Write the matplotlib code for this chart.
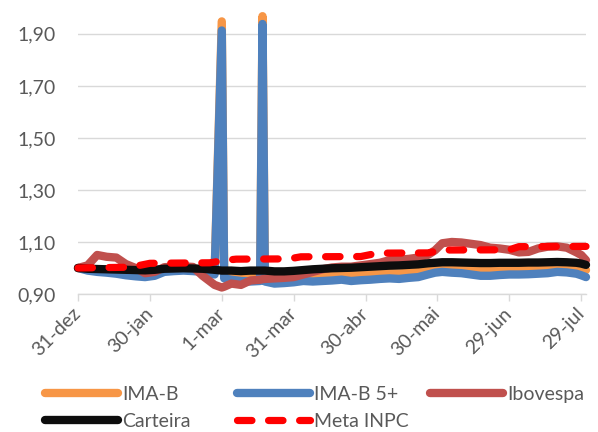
import matplotlib
matplotlib.use("Agg")
import matplotlib.pyplot as plt

# ---- data (days since 31-dez) ----
days = [0, 4, 8, 12, 16, 20, 24, 28, 32, 36, 40, 44, 48, 52, 57, 60, 61, 64, 68, 72,
        76, 77, 78, 82, 86, 90, 94, 98, 102, 106, 110, 114, 118, 122, 126, 130, 134,
        138, 142, 146, 149, 152, 156, 160, 164, 168, 172, 176, 180, 184, 188, 192, 196,
        200, 204, 208, 210, 212]

ima_b = [1.000, 0.995, 0.992, 0.990, 0.988, 0.985, 0.982, 0.980, 0.983, 0.990, 0.992,
         0.993, 0.992, 0.990, 0.982, 1.948, 0.975, 0.972, 0.968, 0.966, 0.968, 1.968,
         0.966, 0.962, 0.963, 0.965, 0.968, 0.967, 0.970, 0.972, 0.974, 0.972, 0.974,
         0.976, 0.978, 0.980, 0.979, 0.982, 0.985, 0.992, 0.997, 1.000, 0.999, 0.998,
         0.995, 0.993, 0.993, 0.995, 0.997, 0.997, 0.998, 0.999, 1.000, 1.003, 1.002,
         0.999, 0.996, 0.992]

ima_b5 = [1.000, 0.990, 0.985, 0.982, 0.978, 0.972, 0.968, 0.965, 0.970, 0.985, 0.988,
          0.990, 0.988, 0.985, 0.975, 1.913, 0.960, 0.955, 0.950, 0.948, 0.950, 1.938,
          0.948, 0.940, 0.942, 0.945, 0.950, 0.948, 0.950, 0.952, 0.955, 0.950, 0.953,
          0.955, 0.958, 0.960, 0.958, 0.962, 0.965, 0.975, 0.982, 0.985, 0.982, 0.980,
          0.975, 0.970, 0.970, 0.973, 0.975, 0.975, 0.976, 0.978, 0.980, 0.985, 0.983,
          0.978, 0.972, 0.965]

ibovespa = [1.000, 1.010, 1.050, 1.043, 1.040, 1.015, 1.000, 0.980, 0.985, 1.003, 1.005,
            1.006, 1.004, 0.970, 0.935, 0.925, 0.928, 0.940, 0.935, 0.952, 0.955, 0.957,
            0.958, 0.960, 0.962, 0.965, 0.975, 0.985, 0.995, 1.002, 1.005, 1.005, 1.010,
            1.015, 1.020, 1.030, 1.032, 1.035, 1.040, 1.050, 1.068, 1.095, 1.100, 1.098,
            1.093, 1.088, 1.078, 1.075, 1.070, 1.060, 1.062, 1.075, 1.082, 1.083, 1.078,
            1.060, 1.050, 1.030]

carteira = [1.000, 0.997, 0.996, 0.995, 0.994, 0.993, 0.992, 0.991, 0.993, 0.997, 0.998,
            0.999, 0.998, 0.997, 0.993, 0.990, 0.990, 0.990, 0.988, 0.990, 0.990, 0.990,
            0.990, 0.987, 0.987, 0.989, 0.992, 0.995, 0.997, 0.999, 1.000, 1.001, 1.003,
            1.005, 1.007, 1.009, 1.010, 1.012, 1.014, 1.018, 1.020, 1.022, 1.022, 1.021,
            1.020, 1.019, 1.019, 1.020, 1.020, 1.020, 1.021, 1.021, 1.022, 1.023, 1.022,
            1.020, 1.017, 1.012]

inpc_days = [0, 22, 30, 55, 62, 66, 88, 93, 118, 125, 146, 152, 180, 184, 212]
meta_inpc = [1.000, 1.003, 1.018, 1.020, 1.030, 1.034, 1.035, 1.043, 1.044, 1.057,
             1.058, 1.069, 1.070, 1.082, 1.083]

tick_days = [0, 30, 60, 90, 120, 150, 180, 210]
tick_labels = ["31-dez", "30-jan", "1-mar", "31-mar", "30-abr", "30-mai", "29-jun", "29-jul"]
y_ticks = [0.90, 1.10, 1.30, 1.50, 1.70, 1.90]

# ---- style ----
FONT = "Lato"
FS = 14
TXT = "#595959"
GRID = "#D9D9D9"

fig = plt.figure(figsize=(5.98, 4.32), dpi=100)
ax = fig.add_axes([78/598, (432-294)/432, (586-78)/598, (294-5)/432])

lw = 6.0
common = dict(lw=lw, solid_capstyle="round", solid_joinstyle="round", clip_on=False)
l1, = ax.plot(days, ima_b, color="#F79646", label="IMA-B", zorder=3, **common)
l2, = ax.plot(days, ima_b5, color="#4F81BD", label="IMA-B 5+", zorder=4, **common)
l3, = ax.plot(days, ibovespa, color="#C0504D", label="Ibovespa", zorder=5, **common)
l4, = ax.plot(days, carteira, color="#0D0D0D", label="Carteira", zorder=6, **common)
l5, = ax.plot(inpc_days, meta_inpc, color="#FF0000", lw=5.2, dashes=(2.0, 2.3),
              dash_capstyle="round", dash_joinstyle="round", clip_on=False,
              label="Meta INPC", zorder=7)

ax.set_xlim(0, 212)
ax.set_ylim(0.9, 2.011)
ax.set_yticks(y_ticks)
ax.set_yticklabels([f"{v:.2f}".replace(".", ",") for v in y_ticks],
                   fontsize=FS, color=TXT, fontfamily=FONT)
ax.set_xticks(tick_days)
ax.set_xticklabels(tick_labels, rotation=45, ha="right", va="center",
                   rotation_mode="anchor", fontsize=FS, color=TXT, fontfamily=FONT)
ax.yaxis.grid(True, color=GRID, lw=1.0)
ax.set_axisbelow(True)
for s in ["left", "right", "top"]:
    ax.spines[s].set_visible(False)
ax.spines["bottom"].set_color(GRID)
ax.spines["bottom"].set_linewidth(1.0)
ax.tick_params(axis="y", length=0, pad=16)
ax.tick_params(axis="x", length=5, width=1.0, color=GRID, pad=7)

leg_kw = dict(loc="upper left", frameon=False, borderpad=0, borderaxespad=0,
              handlelength=3.75, handletextpad=0.2, labelspacing=0.5,
              prop={"family": FONT, "size": FS}, labelcolor=TXT)
fig.legend(handles=[l1, l4], bbox_to_anchor=(45/598, 1-386/432), **leg_kw)
fig.legend(handles=[l2, l5], bbox_to_anchor=(237/598, 1-386/432), **leg_kw)
fig.legend(handles=[l3], bbox_to_anchor=(430/598, 1-386/432), **leg_kw)

fig.savefig("out.png", dpi=100)
